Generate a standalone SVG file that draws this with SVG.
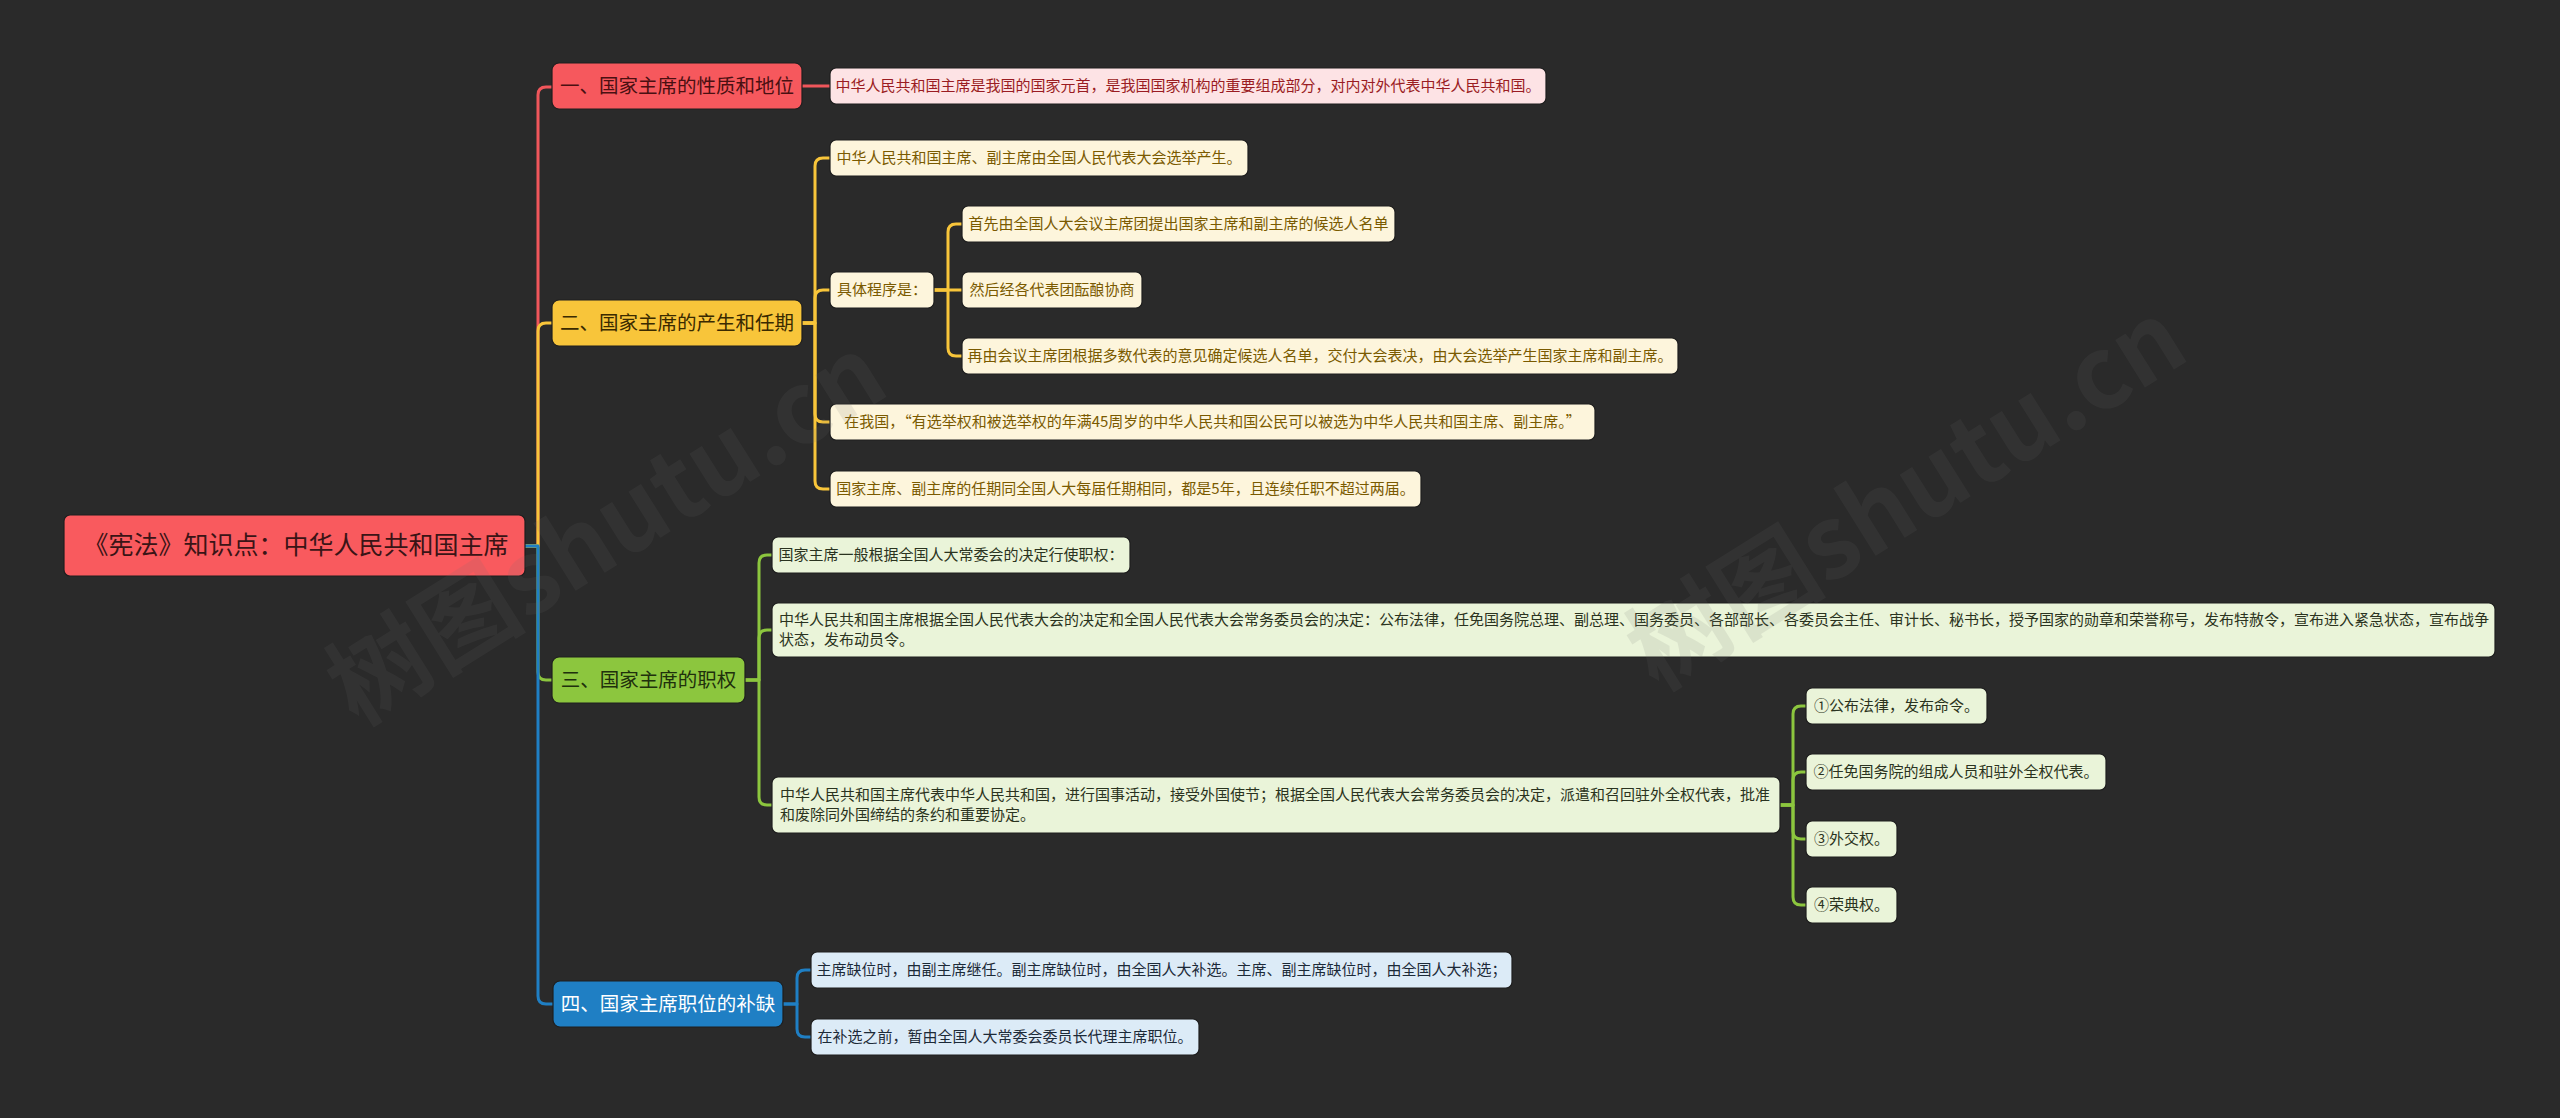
<svg xmlns="http://www.w3.org/2000/svg" width="2560" height="1118" viewBox="0 0 2560 1118">
<style>
text{font-family:"Noto Sans CJK SC","Noto Sans",sans-serif;}
.root rect{fill:#f95a5e;stroke:#1e1e1e;stroke-width:1.2;}
.root text{font-size:25px;fill:#3a1416;text-anchor:middle;}
.main text{font-size:19.5px;text-anchor:middle;}
.main rect{stroke:#1e1e1e;stroke-width:1.2;}
.leaf rect{stroke:#1e1e1e;stroke-width:1.2;}
.leaf text{font-size:15px;text-anchor:middle;}
.leaf text.ml{text-anchor:start;}
.red rect{fill:#f6585d;} .red text{fill:#4a1012;}
.yel rect{fill:#f8c53a;} .yel text{fill:#3a2a00;}
.grn rect{fill:#8cc63e;} .grn text{fill:#20300c;}
.blu rect{fill:#1f7fc4;} .blu text{fill:#ffffff;}
.lred rect{fill:#fde3e5;} .lred text{fill:#9a1c22;}
.lyel rect{fill:#fdf5dc;} .lyel text{fill:#7a5a00;}
.lgrn rect{fill:#eaf4d9;} .lgrn text{fill:#2a3320;}
.lblu rect{fill:#dcebf7;} .lblu text{fill:#1c2a38;}
#connectors path{fill:none;stroke-width:3;stroke-linecap:round;stroke-linejoin:round;}
.cr{stroke:#f0565b;} .cy{stroke:#f8c53a;} .cg{stroke:#8cc63e;} .cb{stroke:#1f7fc4;}
.wm{font-size:100px;font-weight:bold;fill:#707070;opacity:0.12;}
</style>
<rect x="0" y="0" width="2560" height="1118" fill="#2a2a2a"/>

<g id="connectors">
  <path class="cr" d="M525,546 H538 V95 Q538,87 546,87 H552"/>
  <path class="cy" d="M525,546 H538 V331 Q538,323 546,323 H552"/>
  <path class="cg" d="M525,546 H538 V672 Q538,680 546,680 H552"/>
  <path class="cb" d="M525,546 H538 V996 Q538,1004 546,1004 H553"/>

  <path class="cr" d="M802,86 H830"/>

  <path class="cy" d="M802,323 H815 V166 Q815,158 823,158 H830"/>
  <path class="cy" d="M802,323 H815 V298 Q815,290 823,290 H830"/>
  <path class="cy" d="M802,323 H815 V414 Q815,422 823,422 H830"/>
  <path class="cy" d="M802,323 H815 V481 Q815,489 823,489 H830"/>

  <path class="cy" d="M934,290 H948 V232 Q948,224 956,224 H962"/>
  <path class="cy" d="M934,290 H962"/>
  <path class="cy" d="M934,290 H948 V348 Q948,356 956,356 H962"/>

  <path class="cg" d="M745,680 H759 V563 Q759,555 767,555 H772"/>
  <path class="cg" d="M745,680 H759 V638 Q759,630 767,630 H772"/>
  <path class="cg" d="M745,680 H759 V797 Q759,805 767,805 H772"/>

  <path class="cg" d="M1780,805 H1793 V714 Q1793,706 1801,706 H1806"/>
  <path class="cg" d="M1780,805 H1793 V780 Q1793,772 1801,772 H1806"/>
  <path class="cg" d="M1780,805 H1793 V831 Q1793,839 1801,839 H1806"/>
  <path class="cg" d="M1780,805 H1793 V897 Q1793,905 1801,905 H1806"/>

  <path class="cb" d="M783,1004 H797 V978 Q797,970 805,970 H811"/>
  <path class="cb" d="M783,1004 H797 V1029 Q797,1037 805,1037 H811"/>
</g>

<g id="root" class="root">
  <rect x="64" y="515" width="461" height="61" rx="6"/>
  <text x="296" y="554">《宪法》知识点：中华人民共和国主席</text>
</g>

<g id="n1" class="main red">
  <rect x="552" y="63" width="250" height="46" rx="7"/>
  <text x="677" y="93">一、国家主席的性质和地位</text>
</g>
<g id="n2" class="main yel">
  <rect x="552" y="300" width="250" height="46" rx="7"/>
  <text x="677" y="330">二、国家主席的产生和任期</text>
</g>
<g id="n3" class="main grn">
  <rect x="552" y="657" width="193" height="46" rx="7"/>
  <text x="648.5" y="687">三、国家主席的职权</text>
</g>
<g id="n4" class="main blu">
  <rect x="553" y="981" width="230" height="46" rx="7"/>
  <text x="668" y="1011">四、国家主席职位的补缺</text>
</g>

<g id="l1" class="leaf lred">
  <rect x="830" y="68" width="716" height="36" rx="6"/>
  <text x="1188" y="91.3">中华人民共和国主席是我国的国家元首，是我国国家机构的重要组成部分，对内对外代表中华人民共和国。</text>
</g>

<g id="y1" class="leaf lyel">
  <rect x="830" y="140" width="418" height="36" rx="6"/>
  <text x="1039" y="163.3">中华人民共和国主席、副主席由全国人民代表大会选举产生。</text>
</g>
<g id="y2" class="leaf lyel">
  <rect x="830" y="272" width="104" height="36" rx="6"/>
  <text x="882" y="295.3">具体程序是：</text>
</g>
<g id="y2a" class="leaf lyel">
  <rect x="962" y="206" width="433" height="36" rx="6"/>
  <text x="1178.5" y="229.3">首先由全国人大会议主席团提出国家主席和副主席的候选人名单</text>
</g>
<g id="y2b" class="leaf lyel">
  <rect x="962" y="272" width="180" height="36" rx="6"/>
  <text x="1052" y="295.3">然后经各代表团酝酿协商</text>
</g>
<g id="y2c" class="leaf lyel">
  <rect x="962" y="338" width="716" height="36" rx="6"/>
  <text x="1320" y="361.3">再由会议主席团根据多数代表的意见确定候选人名单，交付大会表决，由大会选举产生国家主席和副主席。</text>
</g>
<g id="y3" class="leaf lyel">
  <rect x="830" y="404" width="765" height="36" rx="6"/>
  <text x="1212.5" y="427.3">在我国，“有选举权和被选举权的年满45周岁的中华人民共和国公民可以被选为中华人民共和国主席、副主席。”</text>
</g>
<g id="y4" class="leaf lyel">
  <rect x="830" y="471" width="591" height="36" rx="6"/>
  <text x="1125.5" y="494.3">国家主席、副主席的任期同全国人大每届任期相同，都是5年，且连续任职不超过两届。</text>
</g>

<g id="g1" class="leaf lgrn">
  <rect x="772" y="537" width="358" height="36" rx="6"/>
  <text x="951" y="560.3">国家主席一般根据全国人大常委会的决定行使职权：</text>
</g>
<g id="g2" class="leaf lgrn">
  <rect x="772" y="603" width="1723" height="54" rx="6"/>
  <text class="ml" x="779" y="625.3">中华人民共和国主席根据全国人民代表大会的决定和全国人民代表大会常务委员会的决定：公布法律，任免国务院总理、副总理、国务委员、各部部长、各委员会主任、审计长、秘书长，授予国家的勋章和荣誉称号，发布特赦令，宣布进入紧急状态，宣布战争</text>
  <text class="ml" x="779" y="645.3">状态，发布动员令。</text>
</g>
<g id="g3" class="leaf lgrn">
  <rect x="772" y="777" width="1008" height="56" rx="6"/>
  <text class="ml" x="780" y="800.3">中华人民共和国主席代表中华人民共和国，进行国事活动，接受外国使节；根据全国人民代表大会常务委员会的决定，派遣和召回驻外全权代表，批准</text>
  <text class="ml" x="780" y="820.3">和废除同外国缔结的条约和重要协定。</text>
</g>
<g id="g3a" class="leaf lgrn">
  <rect x="1806" y="688" width="181" height="36" rx="6"/>
  <text x="1896.5" y="711.3">①公布法律，发布命令。</text>
</g>
<g id="g3b" class="leaf lgrn">
  <rect x="1806" y="754" width="300" height="36" rx="6"/>
  <text x="1956" y="777.3">②任免国务院的组成人员和驻外全权代表。</text>
</g>
<g id="g3c" class="leaf lgrn">
  <rect x="1806" y="821" width="91" height="36" rx="6"/>
  <text x="1851.5" y="844.3">③外交权。</text>
</g>
<g id="g3d" class="leaf lgrn">
  <rect x="1806" y="887" width="91" height="36" rx="6"/>
  <text x="1851.5" y="910.3">④荣典权。</text>
</g>

<g id="b1" class="leaf lblu">
  <rect x="811" y="952" width="701" height="36" rx="6"/>
  <text x="1161.5" y="975.3">主席缺位时，由副主席继任。副主席缺位时，由全国人大补选。主席、副主席缺位时，由全国人大补选；</text>
</g>
<g id="b2" class="leaf lblu">
  <rect x="811" y="1019" width="388" height="36" rx="6"/>
  <text x="1005" y="1042.3">在补选之前，暂由全国人大常委会委员长代理主席职位。</text>
</g>

<g id="watermark">
  <text class="wm" x="625" y="560" text-anchor="middle" transform="rotate(-32 625 560)">树图shutu.cn</text>
  <text class="wm" x="1925" y="525" text-anchor="middle" transform="rotate(-32 1925 525)">树图shutu.cn</text>
</g>
</svg>
